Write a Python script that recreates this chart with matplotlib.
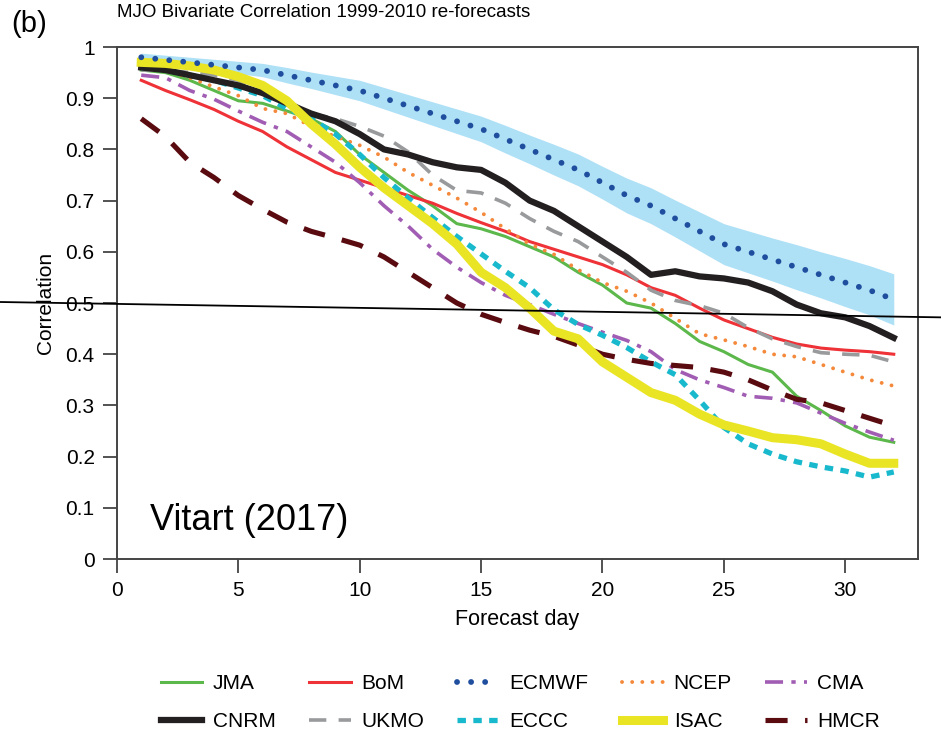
import matplotlib
matplotlib.use("Agg")
import matplotlib.pyplot as plt

plt.rcParams['font.family'] = ['Liberation Sans', 'DejaVu Sans']

days = list(range(1, 33))

jma = [0.955, 0.95, 0.935, 0.915, 0.895, 0.89, 0.875, 0.86, 0.835, 0.79, 0.755, 0.72, 0.69, 0.655, 0.645, 0.63,
       0.61, 0.59, 0.56, 0.535, 0.50, 0.49, 0.46, 0.425, 0.405, 0.38, 0.365, 0.318, 0.29, 0.26, 0.238, 0.228]
bom = [0.935, 0.915, 0.897, 0.878, 0.855, 0.835, 0.805, 0.78, 0.755, 0.74, 0.725, 0.71, 0.695, 0.675, 0.657, 0.64,
       0.62, 0.605, 0.59, 0.575, 0.555, 0.53, 0.515, 0.49, 0.467, 0.45, 0.433, 0.42, 0.412, 0.408, 0.405, 0.40]
ecmwf = [0.98, 0.975, 0.97, 0.965, 0.96, 0.955, 0.945, 0.935, 0.925, 0.915, 0.90, 0.885, 0.87, 0.855, 0.84, 0.82,
         0.80, 0.78, 0.76, 0.735, 0.71, 0.69, 0.665, 0.64, 0.615, 0.60, 0.585, 0.57, 0.555, 0.54, 0.525, 0.507]
ecmwf_upper = [0.988, 0.984, 0.98, 0.976, 0.972, 0.968, 0.96, 0.951, 0.943, 0.935, 0.921, 0.907, 0.893, 0.879, 0.865, 0.847,
               0.828, 0.81, 0.791, 0.767, 0.744, 0.725, 0.701, 0.678, 0.655, 0.641, 0.627, 0.614, 0.6, 0.587, 0.573, 0.557]
ecmwf_lower = [0.972, 0.966, 0.96, 0.954, 0.948, 0.942, 0.93, 0.919, 0.907, 0.895, 0.879, 0.863, 0.847, 0.831, 0.815, 0.793,
               0.772, 0.75, 0.729, 0.703, 0.676, 0.655, 0.629, 0.602, 0.575, 0.559, 0.543, 0.526, 0.51, 0.493, 0.477, 0.457]
ncep = [0.96, 0.955, 0.94, 0.922, 0.905, 0.88, 0.87, 0.845, 0.825, 0.808, 0.785, 0.755, 0.73, 0.705, 0.677, 0.645,
        0.615, 0.595, 0.565, 0.54, 0.523, 0.50, 0.47, 0.44, 0.428, 0.415, 0.40, 0.395, 0.38, 0.365, 0.35, 0.338]
cma = [0.945, 0.94, 0.915, 0.898, 0.875, 0.853, 0.835, 0.805, 0.775, 0.735, 0.69, 0.65, 0.605, 0.57, 0.54, 0.515,
       0.497, 0.478, 0.46, 0.443, 0.427, 0.405, 0.37, 0.35, 0.335, 0.318, 0.314, 0.305, 0.285, 0.265, 0.248, 0.232]
cnrm = [0.96, 0.955, 0.945, 0.935, 0.925, 0.91, 0.89, 0.87, 0.855, 0.83, 0.80, 0.79, 0.775, 0.765, 0.76, 0.735,
        0.70, 0.68, 0.65, 0.62, 0.59, 0.555, 0.562, 0.552, 0.548, 0.54, 0.523, 0.497, 0.48, 0.472, 0.455, 0.432]
ukmo = [0.955, 0.955, 0.95, 0.945, 0.935, 0.915, 0.895, 0.87, 0.86, 0.845, 0.826, 0.795, 0.75, 0.72, 0.715, 0.695,
        0.665, 0.64, 0.62, 0.59, 0.56, 0.525, 0.505, 0.495, 0.48, 0.452, 0.43, 0.415, 0.403, 0.40, 0.398, 0.385]
eccc = [0.96, 0.955, 0.945, 0.935, 0.92, 0.905, 0.88, 0.86, 0.83, 0.79, 0.745, 0.705, 0.667, 0.63, 0.596, 0.562,
        0.53, 0.487, 0.458, 0.437, 0.413, 0.385, 0.36, 0.31, 0.257, 0.225, 0.205, 0.19, 0.18, 0.172, 0.16, 0.17]
isac = [0.97, 0.968, 0.963, 0.955, 0.942, 0.925, 0.895, 0.85, 0.81, 0.765, 0.725, 0.69, 0.655, 0.615, 0.56, 0.53,
        0.49, 0.445, 0.43, 0.385, 0.355, 0.325, 0.31, 0.283, 0.262, 0.25, 0.237, 0.233, 0.225, 0.205, 0.187, 0.187]
hmcr = [0.86, 0.825, 0.775, 0.745, 0.71, 0.683, 0.658, 0.64, 0.627, 0.613, 0.59, 0.56, 0.53, 0.50, 0.478, 0.462,
        0.447, 0.435, 0.418, 0.40, 0.39, 0.382, 0.378, 0.374, 0.365, 0.35, 0.33, 0.312, 0.305, 0.29, 0.275, 0.26]

# hand-drawn reference line (data coords, extended past the axes)
ref_x = [-4.82, 33.95]
ref_y = [0.502, 0.472]

xticks = [0, 5, 10, 15, 20, 25, 30]
yticks = [0, 0.1, 0.2, 0.3, 0.4, 0.5, 0.6, 0.7, 0.8, 0.9, 1]
ytick_labels = ['0', '0.1', '0.2', '0.3', '0.4', '0.5', '0.6', '0.7', '0.8', '0.9', '1']

fig = plt.figure(figsize=(9.41, 7.38), dpi=100)
ax = fig.add_axes([0.1243, 0.2425, 0.8513, 0.6938])

ax.fill_between(days, ecmwf_lower, ecmwf_upper, color='#aee0f6', lw=0, zorder=1)

lines = {}
lines['JMA'], = ax.plot(days, jma, color='#5cb84b', lw=2.2, zorder=3)
lines['BoM'], = ax.plot(days, bom, color='#ee3237', lw=2.2, zorder=3)
lines['NCEP'], = ax.plot(days, ncep, color='#f5893b', lw=2.8, linestyle=(0, (0.01, 2.6)),
                         dash_capstyle='round', zorder=3)
lines['CMA'], = ax.plot(days, cma, color='#a15db3', lw=2.6, linestyle=(0, (5.0, 2.3, 1.2, 2.3)), zorder=3)
lines['UKMO'], = ax.plot(days, ukmo, color='#999a9c', lw=2.6, linestyle=(0, (4.8, 3.4)), zorder=3)
lines['ECCC'], = ax.plot(days, eccc, color='#19b9cd', lw=3.8, linestyle=(0, (1.6, 1.4)), zorder=3)
lines['HMCR'], = ax.plot(days, hmcr, color='#5a0b10', lw=3.7, linestyle=(0, (4.3, 3.4)), zorder=3)
lines['CNRM'], = ax.plot(days, cnrm, color='#231f20', lw=4.5, zorder=4)
lines['ISAC'], = ax.plot(days, isac, color='#e9e524', lw=6.5, zorder=5)
lines['ECMWF'], = ax.plot(days, ecmwf, color='#1f4e9e', lw=4.2, linestyle=(0, (0.01, 2.4)),
                          dash_capstyle='round', zorder=6)

ax.plot(ref_x, ref_y, color='black', lw=1.3, clip_on=False, zorder=10)

ax.set_xlim(0, 33)
ax.set_ylim(0, 1)
ax.set_xticks(xticks)
ax.set_yticks(yticks)
ax.set_yticklabels(ytick_labels)
ax.tick_params(direction='out', length=10, width=1.3, color='#444444', labelsize=15, pad=6)
for s in ax.spines.values():
    s.set_color('#444444')
    s.set_linewidth(1.4)

ax.set_xlabel('Forecast day', fontsize=15.5, labelpad=6)
ax.set_ylabel('Correlation', fontsize=15, labelpad=8)
ax.text(0.0, 1.05, 'MJO Bivariate Correlation 1999-2010 re-forecasts', transform=ax.transAxes,
        fontsize=13.5, ha='left', va='bottom')
fig.text(0.012, 0.948, '(b)', fontsize=21, ha='left', va='bottom')
ax.text(1.35, 0.075, 'Vitart (2017)', fontsize=26, ha='left', va='center')

order = ['JMA', 'CNRM', 'BoM', 'UKMO', 'ECMWF', 'ECCC', 'NCEP', 'ISAC', 'CMA', 'HMCR']
fig.legend([lines[k] for k in order], order, ncol=5, loc='center', bbox_to_anchor=(0.553, 0.048),
           frameon=False, fontsize=15, handlelength=2.0, columnspacing=1.6, handletextpad=0.5,
           labelspacing=0.9)

fig.savefig('out.png', dpi=100)
